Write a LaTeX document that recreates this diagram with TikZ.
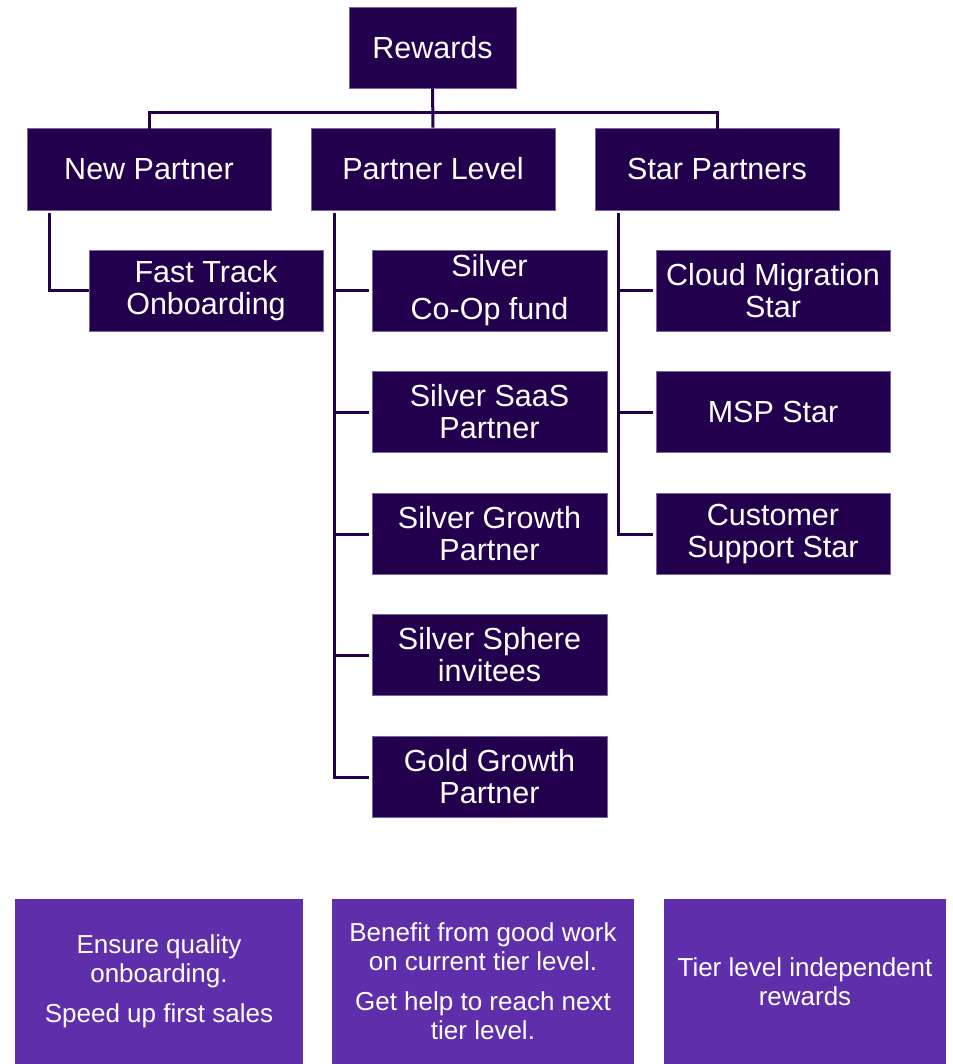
\documentclass[tikz,border=0pt]{standalone}
\usepackage{fontspec}
\setmainfont{Liberation Sans}
\definecolor{navy}{HTML}{23004E}
\definecolor{edge}{HTML}{76689A}
\definecolor{lilac}{HTML}{5F2EAB}
\begin{document}
\begin{tikzpicture}[x=1pt,y=-1pt,
  dbox/.style={fill=navy,draw=edge,line width=0.8pt,text=white,align=center,inner sep=0pt,
    font=\fontsize{30.5}{32}\selectfont},
  pbox/.style={fill=lilac,draw=none,text=white,align=center,inner sep=0pt,
    font=\fontsize{26}{29}\selectfont},
  conn/.style={draw=navy,line width=3pt}]
\useasboundingbox[fill=white] (0,0) rectangle (952,1064);
\node[dbox,minimum width=167pt,minimum height=81pt] (rw) at (432.5,47.5) {Rewards};
\node[dbox,minimum width=244pt,minimum height=82pt] (np) at (149,169) {New Partner};
\node[dbox,minimum width=244pt,minimum height=82pt] (pl) at (433,169) {Partner Level};
\node[dbox,minimum width=244pt,minimum height=82pt] (sp) at (717,169) {Star Partners};
\node[dbox,minimum width=234pt,minimum height=81pt] (ft) at (206,290.5) {Fast Track\\Onboarding};
\node[dbox,minimum width=235pt,minimum height=81pt] (s1) at (489.5,290.5) {Silver\\[11pt]Co-Op fund};
\node[dbox,minimum width=235pt,minimum height=81pt] (s2) at (489.5,412) {Silver SaaS\\Partner};
\node[dbox,minimum width=235pt,minimum height=81pt] (s3) at (489.5,534) {Silver Growth\\Partner};
\node[dbox,minimum width=235pt,minimum height=81pt] (s4) at (489.5,655) {Silver Sphere\\invitees};
\node[dbox,minimum width=235pt,minimum height=81pt] (s5) at (489.5,777) {Gold Growth\\Partner};
\node[dbox,minimum width=234pt,minimum height=81pt] (c1) at (773,290.5) {Cloud Migration\\Star};
\node[dbox,minimum width=234pt,minimum height=81pt] (c2) at (773,412) {MSP Star};
\node[dbox,minimum width=234pt,minimum height=81pt] (c3) at (773,534) {Customer\\Support Star};
\node[pbox,minimum width=288pt,minimum height=165pt] (b1) at (159,981.5) {Ensure quality\\onboarding.\\[11pt]Speed up first sales};
\node[pbox,minimum width=302pt,minimum height=165pt] (b2) at (483,981.5) {Benefit from good work\\on current tier level.\\[11pt]Get help to reach next\\tier level.};
\node[pbox,minimum width=282pt,minimum height=165pt] (b3) at (805,981.5) {Tier level independent\\rewards};
% connectors
\draw[conn] (rw.south) -- (pl.north);
\draw[conn] ([yshift=-3pt]np.north) -- ++(0,-18) -| ([yshift=-3pt]sp.north);
\draw[conn] ([xshift=-100pt,yshift=-3pt]np.south) |- (ft.west);
\foreach \n in {s1,s2,s3,s4,s5}
  \draw[conn] ([xshift=-99pt,yshift=-3pt]pl.south) |- ([xshift=-3pt]\n.west);
\foreach \n in {c1,c2,c3}
  \draw[conn] ([xshift=-99pt,yshift=-3pt]sp.south) |- ([xshift=-3pt]\n.west);
\end{tikzpicture}
\end{document}
